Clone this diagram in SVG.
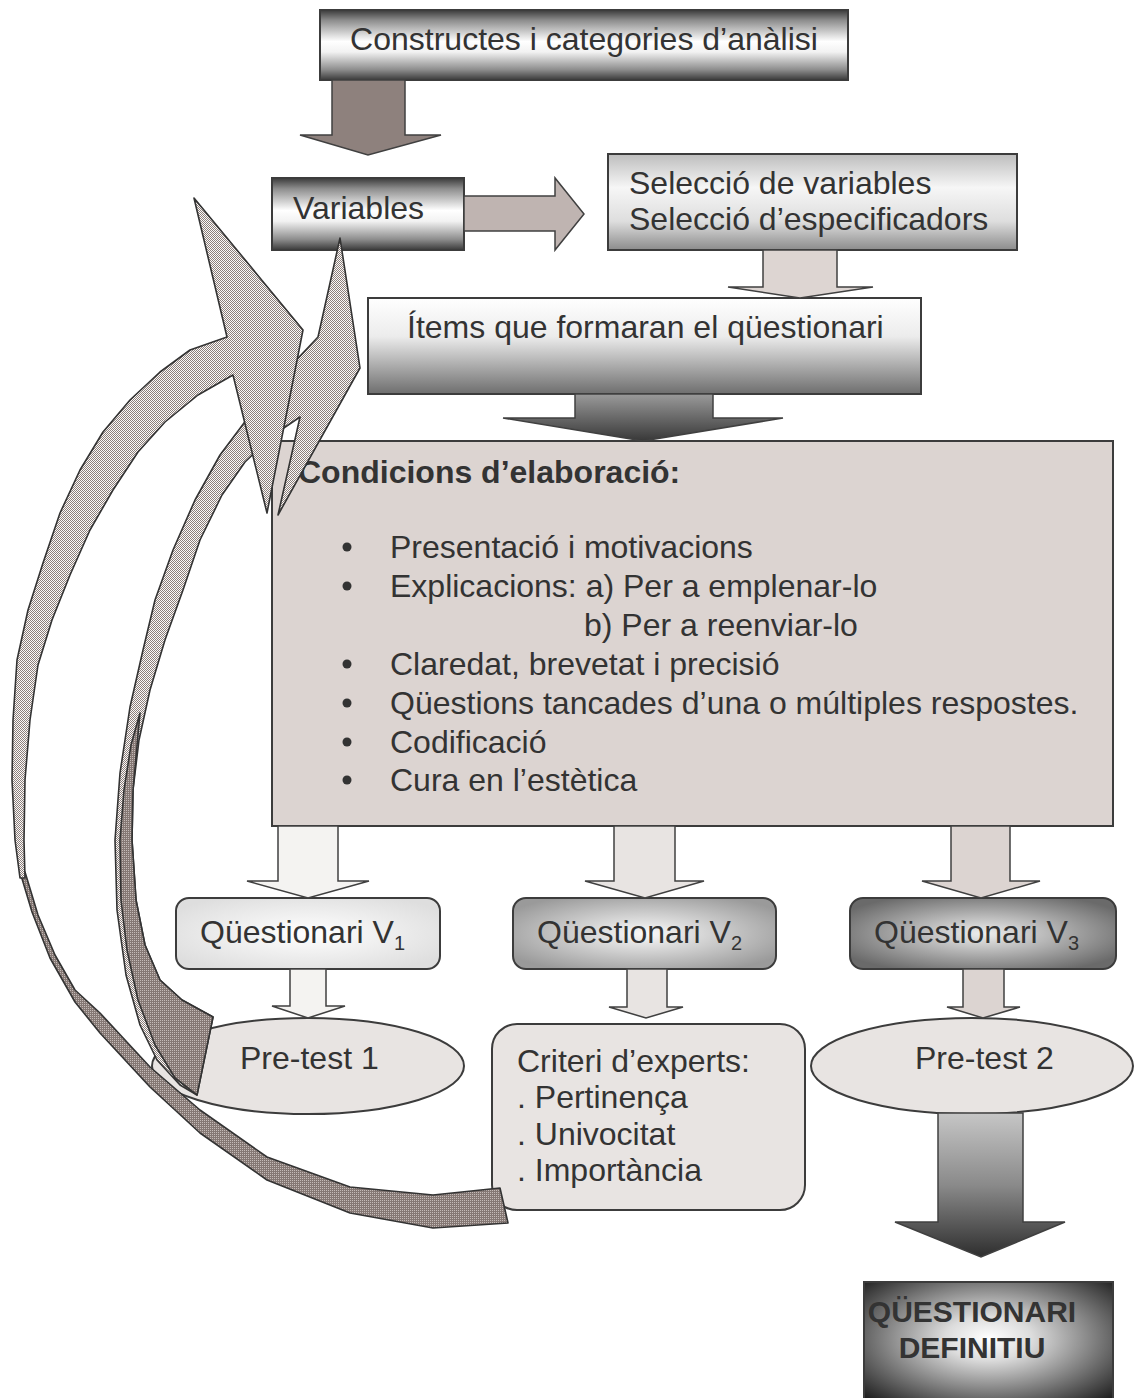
<svg xmlns="http://www.w3.org/2000/svg" width="1135" height="1398" viewBox="0 0 1135 1398">
  <style>
    .box { stroke: #3c3c3c; stroke-width: 2; }
    .blk { stroke: #404040; stroke-width: 1.5; stroke-linejoin: miter; }
    .curve { stroke: #333333; stroke-width: 1.6; stroke-linejoin: round; }
    .t { font-family: "Liberation Sans", Arial, sans-serif; font-size: 32px; fill: #333333; }
    .tb { font-family: "Liberation Sans", Arial, sans-serif; font-size: 32px; font-weight: bold; fill: #333333; }
    .tf { font-family: "Liberation Sans", Arial, sans-serif; font-size: 30px; font-weight: bold; fill: #333333; }
    .sub { font-size: 20px; }
  </style>
  <defs>
    <!-- metallic band: dark edges, bright middle -->
    <linearGradient id="metal" x1="0" y1="0" x2="0" y2="1">
      <stop offset="0" stop-color="#3a3a3a"/>
      <stop offset="0.15" stop-color="#8e8e8e"/>
      <stop offset="0.45" stop-color="#ffffff"/>
      <stop offset="0.6" stop-color="#f2f2f2"/>
      <stop offset="0.85" stop-color="#8e8e8e"/>
      <stop offset="1" stop-color="#3a3a3a"/>
    </linearGradient>
    <linearGradient id="silver" x1="0" y1="0" x2="0" y2="1">
      <stop offset="0" stop-color="#bdbdbd"/>
      <stop offset="0.35" stop-color="#f6f6f6"/>
      <stop offset="0.7" stop-color="#dedede"/>
      <stop offset="1" stop-color="#8c8c8c"/>
    </linearGradient>
    <linearGradient id="fadeDown" x1="0" y1="0" x2="0" y2="1">
      <stop offset="0" stop-color="#ffffff"/>
      <stop offset="0.4" stop-color="#ececec"/>
      <stop offset="1" stop-color="#6e6e6e"/>
    </linearGradient>
    <linearGradient id="darkArrow" x1="0" y1="0" x2="0" y2="1">
      <stop offset="0" stop-color="#9a9a9a"/>
      <stop offset="1" stop-color="#383838"/>
    </linearGradient>
    <linearGradient id="finalArrow" x1="0" y1="0" x2="0" y2="1">
      <stop offset="0" stop-color="#c6c6c6"/>
      <stop offset="0.5" stop-color="#8a8a8a"/>
      <stop offset="1" stop-color="#2e2e2e"/>
    </linearGradient>
    <radialGradient id="glowV1" cx="0.5" cy="0.5" r="0.6">
      <stop offset="0" stop-color="#ffffff"/>
      <stop offset="1" stop-color="#dedede"/>
    </radialGradient>
    <radialGradient id="glowV2" cx="0.5" cy="0.5" r="0.6">
      <stop offset="0" stop-color="#fafafa"/>
      <stop offset="1" stop-color="#9a9a9a"/>
    </radialGradient>
    <radialGradient id="glowV3" cx="0.5" cy="0.5" r="0.6">
      <stop offset="0" stop-color="#eeeeee"/>
      <stop offset="1" stop-color="#6a6a6a"/>
    </radialGradient>
    <radialGradient id="glowFinal" cx="0.5" cy="0.45" r="0.7">
      <stop offset="0" stop-color="#ffffff"/>
      <stop offset="0.25" stop-color="#dcdcdc"/>
      <stop offset="1" stop-color="#1a1a1a"/>
    </radialGradient>
    <!-- fine dither fills for the curved feedback arrows -->
    <pattern id="hatchLight" width="2" height="2" patternUnits="userSpaceOnUse">
      <rect width="2" height="2" fill="#fbfaf9"/>
      <rect width="1" height="1" fill="#8c7f7b"/>
      <rect x="1" y="1" width="1" height="1" fill="#8c7f7b"/>
    </pattern>
    <pattern id="hatchDark" width="2" height="2" patternUnits="userSpaceOnUse">
      <rect width="2" height="2" fill="#857874"/>
      <rect width="1" height="1" fill="#c4bbb8"/>
    </pattern>
  </defs>

  <!-- nodes -->
  <g id="constructes">
    <rect class="box" x="320" y="10" width="528" height="70" fill="url(#metal)"/>
    <text class="t" x="584" y="50" text-anchor="middle">Constructes i categories d’anàlisi</text>
  </g>
  <g id="variables">
    <rect class="box" x="272" y="178" width="192" height="72" fill="url(#metal)"/>
    <text class="t" x="293" y="219">Variables</text>
  </g>
  <g id="seleccio">
    <rect class="box" x="608" y="154" width="409" height="96" fill="url(#silver)"/>
    <text class="t" x="629" y="194">Selecció de variables</text>
    <text class="t" x="629" y="230">Selecció d’especificadors</text>
  </g>
  <g id="items">
    <rect class="box" x="368" y="298" width="553" height="96" fill="url(#fadeDown)"/>
    <text class="t" x="407" y="338">Ítems que formaran el qüestionari</text>
  </g>
  <g id="condicions">
    <rect class="box" x="272" y="441" width="841" height="385" fill="#dcd4d1"/>
    <text class="tb" x="298" y="483">Condicions d’elaboració:</text>
    <g fill="#333333">
      <circle cx="347" cy="547" r="4.5"/>
      <circle cx="347" cy="586" r="4.5"/>
      <circle cx="347" cy="664" r="4.5"/>
      <circle cx="347" cy="703" r="4.5"/>
      <circle cx="347" cy="742" r="4.5"/>
      <circle cx="347" cy="780" r="4.5"/>
    </g>
    <text class="t" x="390" y="558">Presentació i motivacions</text>
    <text class="t" x="390" y="597">Explicacions: a) Per a emplenar-lo</text>
    <text class="t" x="584" y="636">b) Per a reenviar-lo</text>
    <text class="t" x="390" y="675">Claredat, brevetat i precisió</text>
    <text class="t" x="390" y="714">Qüestions tancades d’una o múltiples respostes.</text>
    <text class="t" x="390" y="753">Codificació</text>
    <text class="t" x="390" y="791">Cura en l’estètica</text>
  </g>
  <g id="questionari-v1">
    <rect class="box" x="176" y="898" width="264" height="71" rx="13" fill="url(#glowV1)"/>
    <text class="t" x="200" y="943">Qüestionari V<tspan class="sub" dy="7">1</tspan></text>
  </g>
  <g id="questionari-v2">
    <rect class="box" x="513" y="898" width="263" height="71" rx="13" fill="url(#glowV2)"/>
    <text class="t" x="537" y="943">Qüestionari V<tspan class="sub" dy="7">2</tspan></text>
  </g>
  <g id="questionari-v3">
    <rect class="box" x="850" y="898" width="266" height="71" rx="13" fill="url(#glowV3)"/>
    <text class="t" x="874" y="943">Qüestionari V<tspan class="sub" dy="7">3</tspan></text>
  </g>
  <g id="pretest-1">
    <ellipse class="box" cx="308" cy="1066" rx="156" ry="48" fill="#e8e4e2"/>
    <text class="t" x="240" y="1069">Pre-test 1</text>
  </g>
  <g id="criteri">
    <rect class="box" x="492" y="1024" width="313" height="186" rx="25" fill="#e8e4e2"/>
    <text class="t" x="517" y="1072">Criteri d’experts:</text>
    <text class="t" x="517" y="1108">. Pertinença</text>
    <text class="t" x="517" y="1145">. Univocitat</text>
    <text class="t" x="517" y="1181">. Importància</text>
  </g>
  <g id="pretest-2">
    <ellipse class="box" cx="972" cy="1066" rx="161" ry="48" fill="#e8e4e2"/>
    <text class="t" x="915" y="1069">Pre-test 2</text>
  </g>
  <g id="definitiu">
    <rect class="box" x="864" y="1282" width="249" height="125" fill="url(#glowFinal)"/>
    <text class="tf" x="972" y="1322" text-anchor="middle">QÜESTIONARI</text>
    <text class="tf" x="972" y="1358" text-anchor="middle">DEFINITIU</text>
  </g>

  <!-- connectors -->
  <g id="connectors">
    <polygon class="blk" fill="#8e817d" points="332,80 405,80 405,135 441,135 368,155 300,135 332,135"/>
    <polygon class="blk" fill="#bfb4b1" points="464,196 555,196 555,178 584,214 555,250 555,231 464,231"/>
    <polygon class="blk" fill="#ddd5d2" points="763,250 837,250 837,287 873,287 800,298 728,287 763,287"/>
    <polygon class="blk" fill="url(#darkArrow)" points="575,394 713,394 713,418 783,418 643,441 503,418 575,418"/>

    <polygon class="blk" fill="#f4f3f1" points="278,826 338,826 338,881 369,881 308,898 247,881 278,881"/>
    <polygon class="blk" fill="#e8e4e2" points="614,826 675,826 675,881 704,881 645,898 585,881 614,881"/>
    <polygon class="blk" fill="#dcd4d1" points="951,826 1010,826 1010,881 1040,881 981,898 922,881 951,881"/>

    <polygon class="blk" fill="#f4f3f1" points="290,969 326,969 326,1006 345,1006 308,1018 272,1006 290,1006"/>
    <polygon class="blk" fill="#e8e4e2" points="627,969 667,969 667,1007 683,1007 646,1018 609,1007 627,1007"/>
    <polygon class="blk" fill="#dcd4d1" points="963,969 1004,969 1004,1007 1020,1007 983,1018 947,1007 963,1007"/>

    <polygon class="blk" fill="url(#finalArrow)" points="938,1113 1023,1113 1023,1222 1065,1222 981,1257 895,1222 938,1222"/>

    <!-- feedback arrow from Pre-test 1 back to Variables -->
    <path class="curve" fill="url(#hatchLight)" d="M318,337 L340,238 L360,368 L278,515 L300,417 L272,436 L245,462 L222,495 L200,540 L183,590 L165,640 L150,690 L139,740 L133,790 L132,840 L136,900 L145,945 L160,980 L182,1000 L213,1017 L197,1095 L180,1085 L157,1060 L140,1025 L126,975 L117,910 L115,840 L120,773 L130,707 L143,650 L155,600 L173,550 L195,500 L220,455 L250,415 L285,372 Z"/>
    <path class="curve" fill="url(#hatchDark)" d="M140,713 L133,790 L132,840 L136,900 L145,945 L160,980 L182,1000 L213,1017 L197,1095 L175,1078 L155,1045 L138,1000 L127,950 L121,900 L120,840 L124,790 L131,745 Z"/>

    <!-- feedback arrow from Criteri d'experts back to the items -->
    <path class="curve" fill="url(#hatchDark)" d="M25,872 L38,915 L55,955 L75,990 L100,1013 L150,1067 L200,1110 L267,1157 L350,1187 L433,1195 L500,1188 L508,1223 L433,1228 L350,1213 L267,1180 L200,1133 L150,1087 L100,1033 L75,1002 L50,958 L32,912 L20,872 Z"/>
    <path class="curve" fill="url(#hatchLight)" d="M227,337 L194,198 L303,330 L267,513 L233,375 L198,395 L165,422 L138,452 L113,490 L90,530 L70,575 L52,620 L38,665 L30,720 L25,780 L24,840 L25,878 L20,878 L15,840 L12,780 L13,720 L17,660 L28,610 L43,563 L60,513 L80,470 L103,432 L130,400 L160,372 L190,350 Z"/>
  </g>
</svg>
